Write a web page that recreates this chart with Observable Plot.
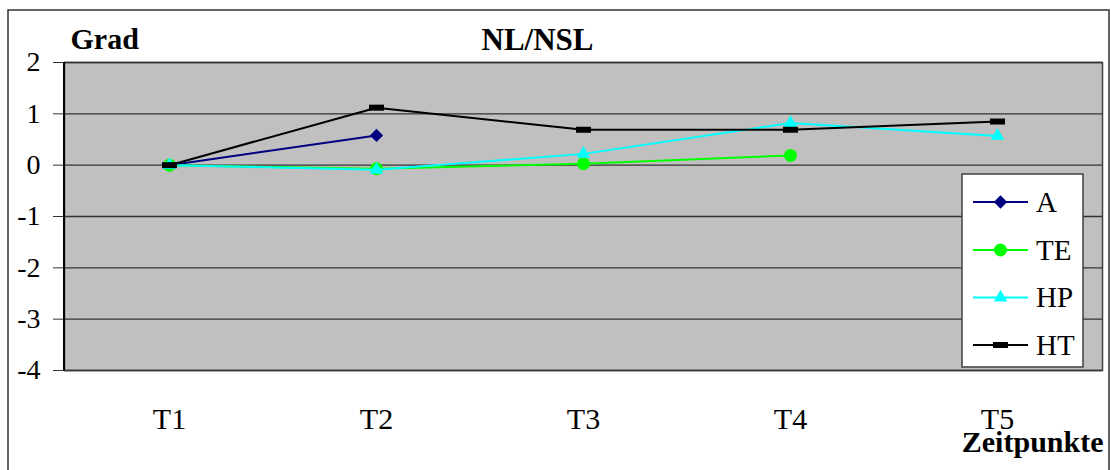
<!DOCTYPE html>
<html>
<head>
<meta charset="utf-8">
<script src="https://cdn.jsdelivr.net/npm/d3@7"></script>
<script src="https://cdn.jsdelivr.net/npm/@observablehq/plot@0.6"></script>
<style>
  html, body { margin: 0; padding: 0; background: #fff; }
  #chart { width: 1111px; height: 470px; overflow: hidden; }
</style>
</head>
<body>
<div id="chart"></div>
<script>
const times = ["T1", "T2", "T3", "T4", "T5"];
const yTicks = [-4, -3, -2, -1, 0, 1, 2];
const seriesNames = ["A", "TE", "HP", "HT"];
const valuesA  = [0, 0.58, null, null, null];
const valuesTE = [0, -0.07, 0.03, 0.19, null];
const valuesHP = [0, -0.09, 0.22, 0.82, 0.57];
const valuesHT = [0, 1.12, 0.69, 0.69, 0.85];
const colors = {A: "#000080", TE: "#00ff00", HP: "#00ffff", HT: "#000000"};

const rectSymbol = {draw(ctx) { ctx.rect(-7.5, -3, 15, 6); }};
const symbols = {A: "diamond2", TE: "circle", HP: "triangle2", HT: rectSymbol};
const radii = {A: 6, TE: 6.5, HP: 6.5, HT: 5};

const valueMap = {A: valuesA, TE: valuesTE, HP: valuesHP, HT: valuesHT};
function rows(name) {
  return times.map((t, i) => ({t, v: valueMap[name][i]})).filter(d => d.v != null);
}

const font = "'Liberation Serif', 'Times New Roman', serif";
const marks = [
  Plot.frame({fill: "#c0c0c0", stroke: "#404040", strokeWidth: 1.5}),
  Plot.ruleY(yTicks, {stroke: "#333", strokeWidth: 1.3}),
  Plot.axisY({ticks: yTicks, tickSize: 11, tickPadding: 13, fontSize: 28, stroke: "#333",
              tickFormat: d => String(d), label: null, fill: "#000"}),
  Plot.axisX({tickSize: 0, tickPadding: 37, fontSize: 30, label: null, fill: "#000"})
];
for (const name of seriesNames) {
  marks.push(Plot.line(rows(name), {x: "t", y: "v", stroke: colors[name], strokeWidth: 2}));
  marks.push(Plot.dot(rows(name), {x: "t", y: "v", symbol: symbols[name], r: radii[name],
                                   fill: colors[name], stroke: "none"}));
}
marks.push(
  Plot.text(["Grad"], {frameAnchor: "top-left", textAnchor: "start", lineAnchor: "middle",
                       dx: 6, dy: -23, fontSize: 30, fontWeight: "bold"}),
  Plot.text(["NL/NSL"], {frameAnchor: "top", lineAnchor: "middle", dx: -46, dy: -22,
                         fontSize: 31, fontWeight: "bold"}),
  Plot.text(["Zeitpunkte"], {frameAnchor: "bottom-right", textAnchor: "end", lineAnchor: "middle",
                             dx: 1, dy: 72, fontSize: 30, fontWeight: "bold"})
);

const chart = Plot.plot({
  width: 1111, height: 470,
  marginLeft: 64, marginRight: 9, marginTop: 62, marginBottom: 100,
  style: {fontFamily: font, color: "#000", background: "#fff"},
  x: {type: "point", domain: times, padding: 0.5},
  y: {domain: [-4, 2]},
  marks
});
document.getElementById("chart").appendChild(chart);

// left axis line, outer frame and legend
const svg = d3.select(chart);
svg.append("line").attr("x1", 64).attr("x2", 64).attr("y1", 62).attr("y2", 370)
  .attr("stroke", "#000").attr("stroke-width", 2);
svg.append("path").attr("d", "M8,472V10H1109V472").attr("fill", "none")
  .attr("stroke", "#333").attr("stroke-width", 1.5);

const lg = svg.append("g");
lg.append("rect").attr("x", 962).attr("y", 174).attr("width", 121).attr("height", 193)
  .attr("fill", "#fff").attr("stroke", "#404040").attr("stroke-width", 1.5);
const rowY = [202, 250, 297.5, 345];
seriesNames.forEach((name, i) => {
  const y = rowY[i];
  lg.append("line").attr("x1", 973).attr("x2", 1028).attr("y1", y).attr("y2", y)
    .attr("stroke", colors[name]).attr("stroke-width", 2);
  const sym = typeof symbols[name] === "string"
    ? {diamond2: d3.symbolDiamond2, circle: d3.symbolCircle, triangle2: d3.symbolTriangle2}[symbols[name]]
    : symbols[name];
  lg.append("path").attr("d", d3.symbol(sym, Math.PI * radii[name] ** 2)())
    .attr("transform", `translate(1000.5,${y})`).attr("fill", colors[name]);
  lg.append("text").attr("x", 1036).attr("y", y).attr("dy", "0.33em")
    .attr("text-anchor", "start")
    .attr("font-size", 29).attr("font-family", font).attr("fill", "#000").text(name);
});
</script>
</body>
</html>
